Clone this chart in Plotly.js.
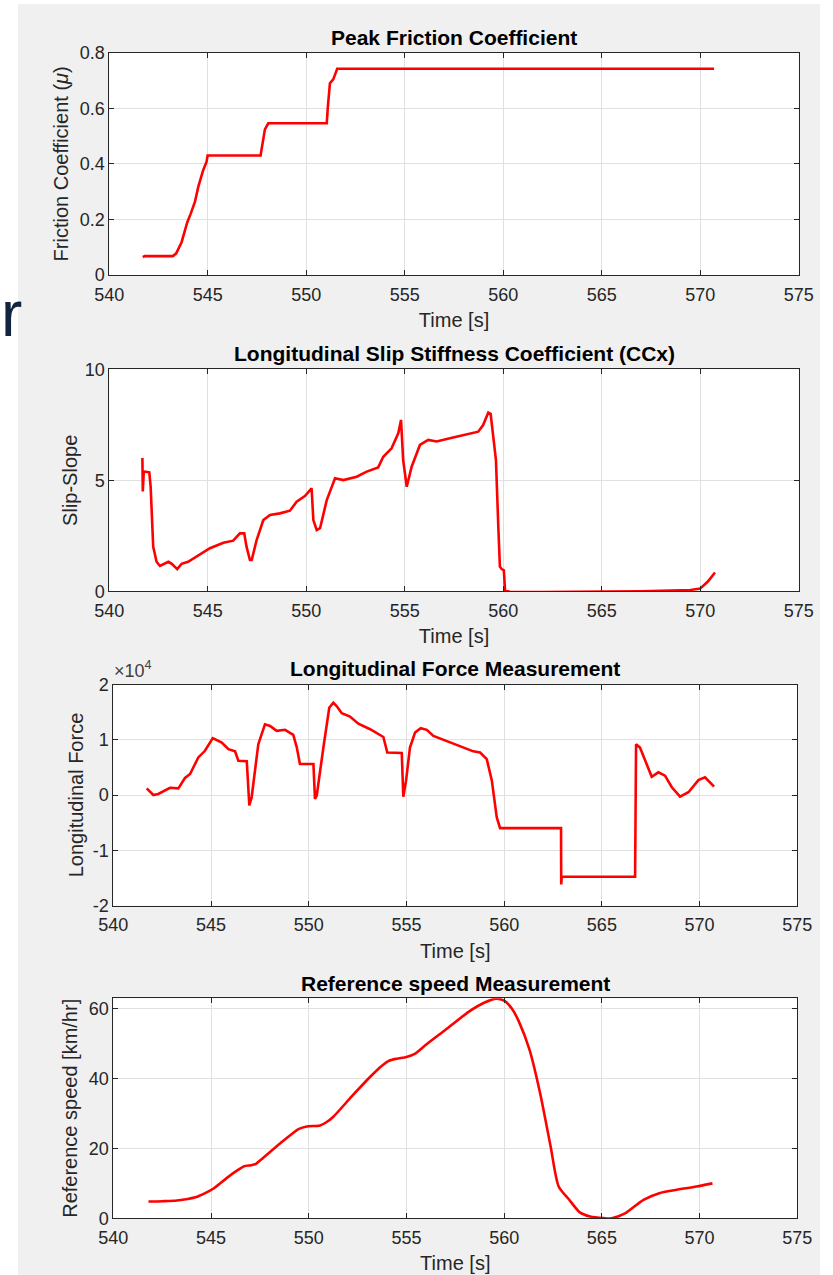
<!DOCTYPE html>
<html>
<head>
<meta charset="utf-8">
<script src="https://cdn.plot.ly/plotly-3.0.1.min.js"></script>
<style>
html,body{margin:0;padding:0;background:#ffffff;}
#chart{width:833px;height:1275px;}
</style>
</head>
<body>
<div id="chart"></div>
<script>
// ---------------- DATA ----------------
const xTickValues = [540, 545, 550, 555, 560, 565, 570, 575];
const xTickLabels = ['540', '545', '550', '555', '560', '565', '570', '575'];

const frictionTickValues = [0, 0.2, 0.4, 0.6, 0.8];
const frictionTickLabels = ['0', '0.2', '0.4', '0.6', '0.8'];
const slipTickValues = [0, 5, 10];
const slipTickLabels = ['0', '5', '10'];
const forceTickValues = [-20000, -10000, 0, 10000, 20000];
const forceTickLabels = ['-2', '-1', '0', '1', '2'];
const speedTickValues = [0, 20, 40, 60];
const speedTickLabels = ['0', '20', '40', '60'];

const frictionTime = [541.70, 541.80, 543.22, 543.39, 543.67, 543.96, 544.13, 544.35, 544.52, 544.77, 544.94, 544.99, 547.68, 547.82, 547.90, 548.07, 551.04, 551.09, 551.20, 551.37, 551.57, 570.70];
const frictionValue = [0.064, 0.068, 0.068, 0.077, 0.118, 0.190, 0.220, 0.264, 0.318, 0.378, 0.408, 0.430, 0.430, 0.486, 0.524, 0.546, 0.546, 0.600, 0.690, 0.704, 0.742, 0.742];

const slipTime = [541.68, 541.70, 541.75, 541.81, 542.03, 542.10, 542.15, 542.23, 542.40, 542.57, 543.00, 543.17, 543.45, 543.67, 544.00, 544.44, 545.11, 545.79, 546.29, 546.63, 546.85, 546.97, 547.14, 547.23, 547.48, 547.82, 548.16, 548.66, 549.17, 549.51, 549.93, 550.27, 550.36, 550.53, 550.70, 551.04, 551.46, 551.88, 552.56, 553.07, 553.65, 553.91, 554.33, 554.67, 554.81, 554.92, 555.10, 555.35, 555.77, 556.19, 556.62, 557.29, 558.06, 558.73, 558.98, 559.24, 559.36, 559.63, 559.75, 559.83, 559.92, 560.03, 560.09, 560.30, 562.00, 565.00, 567.00, 568.50, 569.50, 570.00, 570.40, 570.75];
const slipValue = [6.00, 4.50, 5.40, 5.39, 5.36, 4.71, 3.36, 2.00, 1.33, 1.14, 1.33, 1.24, 1.00, 1.24, 1.33, 1.56, 1.94, 2.19, 2.28, 2.61, 2.61, 2.00, 1.41, 1.41, 2.31, 3.21, 3.44, 3.51, 3.63, 4.04, 4.29, 4.64, 3.21, 2.76, 2.84, 4.11, 5.09, 5.01, 5.16, 5.39, 5.58, 6.06, 6.44, 7.12, 7.72, 5.91, 4.71, 5.61, 6.59, 6.82, 6.75, 6.89, 7.04, 7.19, 7.49, 8.05, 7.99, 5.91, 2.91, 1.11, 1.00, 0.95, 0.06, -0.02, -0.03, -0.02, 0.00, 0.03, 0.06, 0.12, 0.45, 0.85];

const forceTime = [541.71, 542.05, 542.30, 542.90, 543.33, 543.67, 543.93, 544.35, 544.69, 545.09, 545.55, 545.89, 546.23, 546.40, 546.83, 546.96, 547.08, 547.42, 547.76, 548.02, 548.36, 548.79, 549.21, 549.39, 549.55, 550.24, 550.32, 550.41, 550.75, 551.05, 551.26, 551.43, 551.69, 552.11, 552.54, 553.14, 553.82, 554.02, 554.76, 554.84, 554.98, 555.18, 555.44, 555.73, 556.04, 556.38, 557.40, 558.42, 558.77, 559.11, 559.37, 559.62, 559.79, 562.91, 562.92, 562.95, 566.70, 566.75, 566.95, 567.21, 567.55, 567.89, 568.23, 568.58, 569.00, 569.43, 569.94, 570.28, 570.74];
const forceValue = [1200, 0, 200, 1300, 1200, 3100, 3800, 6800, 8000, 10300, 9500, 8300, 7900, 6200, 6100, -1900, -400, 9200, 12800, 12500, 11600, 11800, 10900, 8600, 5600, 5600, -700, -100, 8600, 15800, 16700, 16100, 14800, 14200, 12900, 11900, 10500, 7700, 7600, -300, 2600, 8600, 11300, 12100, 11800, 10700, 9300, 7900, 7700, 6500, 2600, -4000, -6000, -6000, -16200, -14800, -14800, 9200, 8600, 6200, 3300, 4100, 3500, 1400, -300, 500, 2700, 3200, 1500];

const speedTime = [541.80, 542.50, 543.26, 544.20, 544.70, 545.15, 545.80, 546.38, 546.70, 547.05, 547.30, 547.60, 548.55, 549.50, 549.90, 550.58, 550.90, 551.26, 552.20, 553.16, 553.70, 554.10, 554.50, 555.00, 555.40, 556.00, 557.10, 558.20, 559.00, 559.60, 560.00, 560.40, 560.75, 561.30, 561.84, 562.38, 562.79, 563.33, 563.87, 564.40, 565.10, 565.50, 566.18, 567.13, 567.94, 568.76, 569.84, 570.66];
const speedValue = [4.8, 4.9, 5.1, 6.0, 7.2, 8.6, 11.5, 13.85, 14.9, 15.2, 15.6, 17.0, 21.5, 25.6, 26.3, 26.6, 27.5, 29.1, 34.9, 40.6, 43.5, 45.1, 45.7, 46.2, 47.0, 49.7, 54.4, 59.2, 61.8, 62.9, 62.3, 60.0, 56.4, 48.2, 35.8, 20.5, 9.1, 5.3, 1.7, 0.5, 0.05, 0.0, 1.4, 5.3, 7.2, 8.1, 9.1, 10.0];

const panelTitles = ['Peak Friction Coefficient', 'Longitudinal Slip Stiffness Coefficient (CCx)', 'Longitudinal Force Measurement', 'Reference speed Measurement'];
const yTitles = ['Friction Coefficient (<i>μ</i>)', 'Slip-Slope', 'Longitudinal Force', 'Reference speed [km/hr]'];
const xTitle = 'Time [s]';

// ---------------- LAYOUT ----------------
const W = 833, H = 1275;
const FONT = 'Liberation Sans, Arial, Helvetica, sans-serif';
const AX = '#262626';
// pixel boxes of the four axes: [left, right, top, bottom]
const boxes = [
  [109.3, 798.7, 52.7, 275.0],
  [109.3, 798.7, 369.3, 591.3],
  [113.3, 797.3, 684.5, 905.5],
  [113.3, 797.3, 998.3, 1218.3]
];
const px = v => v / W;
const py = v => 1 - v / H;

const traces = [
  {x: frictionTime, y: frictionValue, xaxis: 'x', yaxis: 'y', line: {color: '#ff0000', width: 2.6}},
  {x: slipTime, y: slipValue, xaxis: 'x2', yaxis: 'y2', line: {color: '#ff0000', width: 2.6}},
  {x: forceTime, y: forceValue, xaxis: 'x3', yaxis: 'y3', line: {color: '#ff0000', width: 2.6}},
  {x: speedTime, y: speedValue, xaxis: 'x4', yaxis: 'y4', line: {color: '#ff0000', width: 2.6, shape: 'spline', smoothing: 0.7}}
].map(t => Object.assign(t, {type: 'scatter', mode: 'lines', hoverinfo: 'x+y'}));

function xax(i) {
  const b = boxes[i];
  return {
    domain: [px(b[0]), px(b[1])], anchor: i === 0 ? 'y' : 'y' + (i + 1),
    range: [540, 575], tickmode: 'array', tickvals: xTickValues, ticktext: xTickLabels,
    ticks: 'inside', ticklen: 5, tickwidth: 1, tickcolor: AX,
    showline: true, linecolor: AX, linewidth: 1, mirror: 'allticks',
    showgrid: true, gridcolor: '#e0e0e0', gridwidth: 1, zeroline: false,
    tickfont: {family: FONT, size: 18, color: AX}, ticklabelstandoff: 3,
    title: {text: xTitle, font: {family: FONT, size: 20, color: AX}, standoff: 9},
    automargin: false, fixedrange: true
  };
}
function yax(i, range, vals, labels, standoff) {
  const b = boxes[i];
  return {
    domain: [py(b[3]), py(b[2])], anchor: i === 0 ? 'x' : 'x' + (i + 1),
    range: range, tickmode: 'array', tickvals: vals, ticktext: labels,
    ticks: 'inside', ticklen: 5, tickwidth: 1, tickcolor: AX,
    showline: true, linecolor: AX, linewidth: 1, mirror: 'allticks',
    showgrid: true, gridcolor: '#e0e0e0', gridwidth: 1, zeroline: false,
    tickfont: {family: FONT, size: 18, color: AX},
    title: {text: yTitles[i], font: {family: FONT, size: 20, color: AX}, standoff: standoff},
    automargin: false, fixedrange: true
  };
}

const titleCentres = [37, 354, 668, 983];
const annotations = panelTitles.map((t, i) => ({
  text: t, xref: 'paper', yref: 'paper',
  x: px((boxes[i][0] + boxes[i][1]) / 2), y: py(titleCentres[i]),
  xanchor: 'center', yanchor: 'middle', showarrow: false,
  font: {family: FONT, size: 21, color: '#000000', weight: 'bold'}
}));
annotations.push({
  text: '×10<sup>4</sup>', xref: 'paper', yref: 'paper',
  x: px(112), y: py(683), xanchor: 'left', yanchor: 'bottom', showarrow: false,
  font: {family: FONT, size: 18, color: '#404040'}
});
annotations.push({
  text: 'r', xref: 'paper', yref: 'paper',
  x: 0, y: py(314), xanchor: 'left', yanchor: 'middle', showarrow: false,
  borderpad: 0,
  font: {family: FONT, size: 64, color: '#13243f'}
});

const layout = {
  width: W, height: H,
  margin: {l: 0, r: 0, t: 0, b: 0, pad: 0},
  paper_bgcolor: '#f0f0f0', plot_bgcolor: '#ffffff',
  showlegend: false,
  font: {family: FONT, color: AX, size: 18},
  xaxis: xax(0), xaxis2: xax(1), xaxis3: xax(2), xaxis4: xax(3),
  yaxis: yax(0, [0, 0.8], frictionTickValues, frictionTickLabels, 5),
  yaxis2: yax(1, [0, 10], slipTickValues, slipTickLabels, 1),
  yaxis3: yax(2, [-20000, 20000], forceTickValues, forceTickLabels, 3),
  yaxis4: yax(3, [0, 63], speedTickValues, speedTickLabels, 5),
  annotations: annotations,
  shapes: [
    {type: 'rect', xref: 'paper', yref: 'paper', x0: 0, x1: px(18), y0: 0, y1: 1, fillcolor: '#ffffff', line: {width: 0}, layer: 'below'},
    {type: 'rect', xref: 'paper', yref: 'paper', x0: px(820), x1: 1, y0: 0, y1: 1, fillcolor: '#ffffff', line: {width: 0}, layer: 'below'},
    {type: 'rect', xref: 'paper', yref: 'paper', x0: 0, x1: 1, y0: py(4), y1: 1, fillcolor: '#ffffff', line: {width: 0}, layer: 'below'}
  ]
};

Plotly.newPlot('chart', traces, layout, {displayModeBar: false, staticPlot: true});
</script>
</body>
</html>
